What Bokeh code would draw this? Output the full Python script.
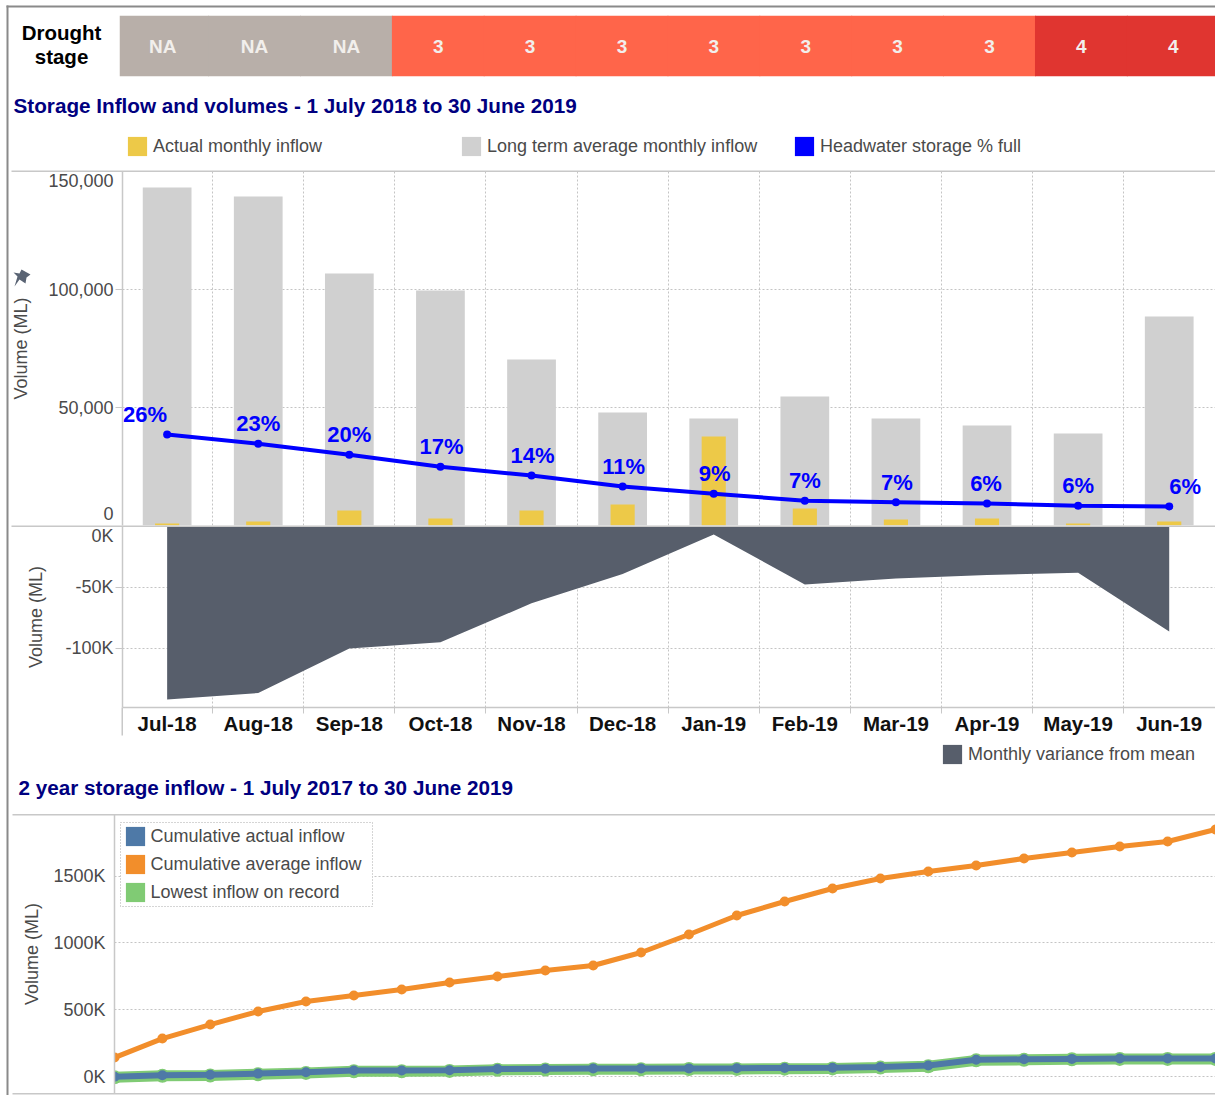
from bokeh.plotting import figure
from bokeh.models import (Range1d, FixedTicker, Label, BoxAnnotation, PolyAnnotation, Legend, LegendItem,
                          NumeralTickFormatter)
from bokeh.core.properties import value
from bokeh.embed import file_html
from bokeh.resources import INLINE
import numpy as np

months = ["Jul-18","Aug-18","Sep-18","Oct-18","Nov-18","Dec-18","Jan-19","Feb-19","Mar-19","Apr-19","May-19","Jun-19"]
stages = ["NA","NA","NA","3","3","3","3","3","3","3","4","4"]
long_term = [143200,139400,106800,99600,70300,47900,45300,54700,45300,42400,39000,88600]
actual = [800,1700,6400,3000,6400,8900,37700,7200,2500,3000,800,1700]
storage_pct = [25.7,23.1,20.0,16.6,14.1,11.0,9.0,7.0,6.6,6.2,5.6,5.4]
storage_labels = ["26%","23%","20%","17%","14%","11%","9%","7%","7%","6%","6%","6%"]
variance = [-141800,-136500,-100000,-95000,-63000,-39000,-6500,-47500,-42600,-39800,-38000,-86000]
months_2y = ["Jul-17","Aug-17","Sep-17","Oct-17","Nov-17","Dec-17","Jan-18","Feb-18","Mar-18","Apr-18","May-18","Jun-18"] + months
cum_average = [142,284,389,487,561,606,651,704,749,793,831,928,1063,1205,1310,1407,1482,1534,1579,1632,1677,1722,1759,1849]
cum_actual = [-2,10,13,22,32,45,45,47,56,58,60,60,61,62,64,66,72,82,125,129,132,135,135,135]
lowest = [-6,5,8,17,27,40,40,42,51,53,55,55,56,57,59,61,67,77,121,125,129,132,132,132]

FONT = "Liberation Sans"
GRAY = "#c8c8c8"
TXT = "#4a4a4a"
NAVY = "#000080"
FRAME = "#8a8a8a"
STAGE_COL = {"NA": "#b8afa9", "3": "#ff654a", "4": "#e03530"}
W, H = 1215, 1095

def base(top, bottom, left, xr, yr, **kw):
    return figure(width=W, height=H, min_border_top=top, min_border_bottom=bottom, min_border_left=left,
                  min_border_right=0, x_range=xr, y_range=yr, output_backend="svg", toolbar_location=None,
                  background_fill_alpha=0, border_fill_alpha=0, outline_line_color=None,
                  styles={"position": "absolute", "left": "0px", "top": "0px"}, **kw)

def style_y(p, standoff):
    a = p.yaxis[0]
    a.axis_line_color = GRAY; a.axis_line_width = 1.5
    a.major_tick_line_color = GRAY; a.major_tick_out = 7; a.major_tick_in = 0
    a.minor_tick_line_color = None
    a.major_label_text_font = FONT; a.major_label_text_font_size = "18px"; a.major_label_text_color = TXT
    a.major_label_standoff = 2
    a.axis_label_text_font = FONT; a.axis_label_text_font_size = "18px"; a.axis_label_text_color = TXT
    a.axis_label_text_font_style = "normal"; a.axis_label_standoff = standoff

def dash(g):
    g.grid_line_color = "#c4c4c4"; g.grid_line_dash = "2 2"; g.grid_line_width = 1

# ---- page furniture: headings, legends, rules (its frame is the whole canvas)
chrome = base(0, 0, 0, Range1d(0, W), Range1d(H, 0), x_axis_location=None, y_axis_location=None)
chrome.grid.visible = False

def proxy(p, color):
    return p.vbar(x=[float("nan")], top=[float("nan")], width=1, fill_color=color, line_color=None)

def label(x, y, text, size=18, color=TXT, style="normal", align="left"):
    chrome.add_layout(Label(x=x, y=y, x_units="canvas", y_units="canvas", text=text, text_font=FONT,
                            text_font_size=f"{size}px", text_color=color, text_font_style=style,
                            text_align=align, text_baseline="middle"))

def rule(x0, x1, y0, y1, color=GRAY):
    chrome.add_layout(BoxAnnotation(left=x0, right=x1, top=y0, bottom=y1, left_units="canvas", right_units="canvas",
                                    top_units="canvas", bottom_units="canvas", fill_color=color, fill_alpha=1,
                                    line_color=None))

def swatch_legend(color, text, x, y):
    chrome.add_layout(Legend(items=[LegendItem(label=text, renderers=[proxy(chrome, color)])], location=(x, y),
                             padding=0, margin=0, background_fill_alpha=0, border_line_color=None, glyph_width=24,
                             glyph_height=24, label_standoff=4, label_text_font=FONT, label_text_font_size="18px",
                             label_text_color=TXT))

label(61, 32, "Drought", 20.5, "black", "bold", "center")
label(61, 56, "stage", 20.5, "black", "bold", "center")
label(13, 105, "Storage Inflow and volumes - 1 July 2018 to 30 June 2019", 20.7, NAVY, "bold")
label(18, 787, "2 year storage inflow - 1 July 2017 to 30 June 2019", 20.7, NAVY, "bold")
label(113, 180, "150,000", 18, TXT, "normal", "right")
label(113, 513, "0", 18, TXT, "normal", "right")
label(113, 535, "0K", 18, TXT, "normal", "right")
swatch_legend("#edc948", "Actual monthly inflow", 125, 937)
swatch_legend("#d0d0d0", "Long term average monthly inflow", 459, 937)
swatch_legend("#0000ff", "Headwater storage % full", 792, 937)
swatch_legend("#575e6b", "Monthly variance from mean", 940, 329)
rule(6, W, 5, 7, FRAME)
rule(6, 8, 5, H, FRAME)
rule(11, W, 170, 171.5)
rule(11, W, 525, 526.5)
rule(121, 122.5, 707, 735)
rule(12, W, 813.5, 815)
rule(12, W, 1092.5, 1094)
chrome.add_layout(PolyAnnotation(xs=[21, 30, 26, 25, 19, 14, 17, 13, 19], ys=[269, 274, 277, 283, 279, 286, 276, 272, 273],
                                 xs_units="canvas", ys_units="canvas", fill_color="#5a6474", fill_alpha=1, line_color=None))

# ---- drought strip
xc = np.arange(len(months)) + 0.5
top = base(15, H - 76, 119, Range1d(0.03, 11.96), Range1d(0, 1), x_axis_location=None, y_axis_location=None)
top.grid.visible = False
top.vbar(x=xc, bottom=0, top=1, width=1.01, fill_color=[STAGE_COL[s] for s in stages], line_color=None)
top.text(x=xc, y=[0.5]*12, text=stages, text_font=value(FONT), text_font_size="19px", text_color="#f2efec",
         text_font_style="bold", text_align="center", text_baseline="middle")

# ---- bars
bounds = list(range(1, len(months)))
bars = base(171, H - 525, 122, Range1d(0.01, 12.008), Range1d(0, 150000), x_axis_location=None)
bars.xgrid.ticker = FixedTicker(ticks=bounds); dash(bars.xgrid[0])
bars.ygrid.ticker = FixedTicker(ticks=[50000, 100000]); dash(bars.ygrid[0])
bars.yaxis.ticker = FixedTicker(ticks=[50000, 100000])
bars.yaxis.formatter = NumeralTickFormatter(format="0,0")
bars.yaxis.axis_label = "Volume (ML)"
style_y(bars, 14)
bars.vbar(x=xc, top=long_term, width=0.535, fill_color="#d0d0d0", line_color=None)
bars.vbar(x=xc, top=actual, width=0.265, fill_color="#edc948", line_color=None)
bars.extra_y_ranges = {"pct": Range1d(0, 100)}
bars.line(xc, storage_pct, y_range_name="pct", line_color="#0000ff", line_width=4)
bars.scatter(xc, storage_pct, y_range_name="pct", size=8, fill_color="#0000ff", line_color=None)
bars.text(x=xc, y=storage_pct, y_range_name="pct", text=storage_labels, text_font=value(FONT), text_font_size="22px",
          text_color="#0000ff", text_font_style="bold", text_align="center", text_baseline="middle",
          x_offset=[-22,0,0,1,1,1,1,0,1,-1,0,16], y_offset=-20)

# ---- variance area
area = base(526, H - 707, 122, Range1d(0.01, 12.008), Range1d(-148400, 0))
area.xaxis.ticker = FixedTicker(ticks=list(xc), minor_ticks=bounds)
area.xaxis.major_label_overrides = {float(x): m for x, m in zip(xc, months)}
ax = area.xaxis[0]
ax.axis_line_color = GRAY; ax.axis_line_width = 1.5; ax.major_tick_line_color = None
ax.minor_tick_line_color = GRAY; ax.minor_tick_out = 6; ax.minor_tick_in = 0
ax.major_label_text_font = FONT; ax.major_label_text_font_size = "20.5px"; ax.major_label_text_color = "#111111"
ax.major_label_text_font_style = "bold"; ax.major_label_standoff = -2
area.xgrid.ticker = FixedTicker(ticks=bounds); dash(area.xgrid[0])
area.ygrid.ticker = FixedTicker(ticks=[-100000, -50000]); dash(area.ygrid[0])
area.yaxis.ticker = FixedTicker(ticks=[-100000, -50000])
area.yaxis.major_label_overrides = {-100000: "-100K", -50000: "-50K"}
area.yaxis.axis_label = "Volume (ML)"
style_y(area, 16)
area.varea(x=xc, y1=[0]*12, y2=variance, fill_color="#575e6b")

# ---- cumulative lines
cum = base(814, 2, 114, Range1d(0, 23), Range1d(-127, 1961), x_axis_location=None)
cum.xgrid.visible = False
cum.ygrid.ticker = FixedTicker(ticks=[0, 500, 1000, 1500]); dash(cum.ygrid[0])
cum.yaxis.ticker = FixedTicker(ticks=[0, 500, 1000, 1500])
cum.yaxis.major_label_overrides = {0: "0K", 500: "500K", 1000: "1000K", 1500: "1500K"}
cum.yaxis.axis_label = "Volume (ML)"
style_y(cum, 8)
cum.yaxis[0].major_tick_line_color = None
xi = np.arange(len(months_2y))
cum.line(xi, lowest, line_color="#80cb74", line_width=11)
cum.scatter(xi, lowest, size=14, fill_color="#80cb74", line_color=None)
cum.line(xi, cum_actual, line_color="#4e79a7", line_width=6)
cum.scatter(xi, cum_actual, size=10, fill_color="#4e79a7", line_color=None)
cum.line(xi, cum_average, line_color="#f28e2b", line_width=5)
cum.scatter(xi, cum_average, size=10, fill_color="#f28e2b", line_color=None)
cum.add_layout(BoxAnnotation(left=120, right=372, top=822, bottom=906, left_units="canvas", right_units="canvas",
                             top_units="canvas", bottom_units="canvas", fill_color="white", fill_alpha=1,
                             line_color="#aaaaaa", line_dash="1 2", line_width=1, line_alpha=1))
items = []
for col, txt in (("#4e79a7", "Cumulative actual inflow"), ("#f28e2b", "Cumulative average inflow"), ("#80cb74", "Lowest inflow on record")):
    items.append(LegendItem(label=txt, renderers=[proxy(cum, col)]))
cum.add_layout(Legend(items=items, location=(8.5, 189), padding=3, margin=0, spacing=4, background_fill_alpha=0,
                      border_line_color=None, glyph_width=24, glyph_height=24, label_standoff=4,
                      label_text_font=FONT, label_text_font_size="18px", label_text_color=TXT))

open("out.html", "w").write(file_html([top, bars, area, cum, chrome], INLINE))
